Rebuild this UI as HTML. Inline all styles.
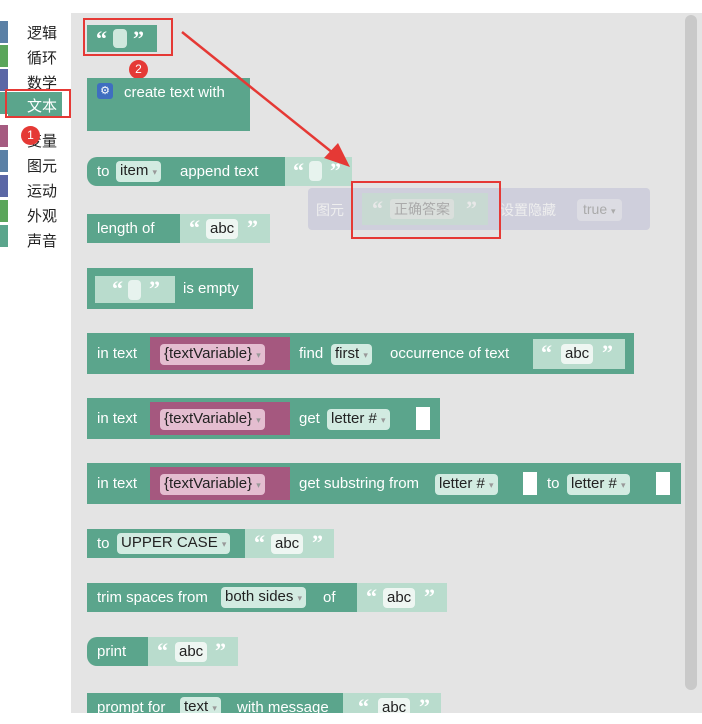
<!DOCTYPE html><html><head><meta charset="utf-8"><style>
body{margin:0;width:702px;height:724px;background:#fff;position:relative;overflow:hidden;font-family:"Liberation Sans","Noto Sans CJK SC",sans-serif}
div{position:absolute;box-sizing:border-box}
.fly{left:71px;top:13px;width:631px;height:700px;background:#e4e4e4}
.g{background:#5ba58c;color:#fff;font-size:15px;line-height:29px;white-space:nowrap}
.l{background:#b9dccd}
.f{background:#d2ebe1;color:#222;border-radius:4px;font-size:15px;line-height:20px;padding:0 4px}
.w{background:#eef6f2;color:#222;border-radius:4px;font-size:15px;line-height:20px;padding:0 4px}
.p{background:#a5587f;}
.pf{background:#e4bdd0;color:#222;border-radius:4px;font-size:15px;line-height:20px;padding:0 4px}
.t{color:#fff;font-size:15px}
.q{color:#fff;font-size:22px;line-height:22px;font-weight:bold;font-family:"Liberation Serif",serif}
.tb{font-size:15px;color:#222;left:27px}
.s{left:0;width:8px;height:22px}
.r{border:2px solid #e53935}
</style></head><body>
<div class="fly"></div>
<!-- toolbox -->
<div class="s" style="top:21px;background:#5b80a5"></div><div class="tb" style="top:22px">逻辑</div>
<div class="s" style="top:45px;background:#5ba55b"></div><div class="tb" style="top:47px">循环</div>
<div class="s" style="top:69px;background:#5b67a5"></div><div class="tb" style="top:72px">数学</div>
<div style="left:8px;top:92px;width:54px;height:24px;background:#5ba58c"></div><div class="s" style="top:92px;background:#5ba58c"></div><div class="tb" style="top:95px;color:#fff">文本</div>
<div class="s" style="top:125px;background:#a55b80"></div><div class="tb" style="top:130px">变量</div>
<div class="s" style="top:150px;background:#5b80a5"></div><div class="tb" style="top:155px">图元</div>
<div class="s" style="top:175px;background:#5b67a5"></div><div class="tb" style="top:180px">运动</div>
<div class="s" style="top:200px;background:#5ba55b"></div><div class="tb" style="top:205px">外观</div>
<div class="s" style="top:225px;background:#5ba58c"></div><div class="tb" style="top:230px">声音</div>
<div class="r" style="left:5px;top:89px;width:66px;height:29px"></div>
<div style="left:21px;top:126px;width:19px;height:19px;border-radius:50%;background:#e53935;color:#fff;font-size:12px;text-align:center;line-height:19px">1</div>
<!-- scrollbar -->
<div style="left:685px;top:15px;width:12px;height:675px;background:#c9c9c9;border-radius:6px"></div>
<!-- 1 quote -->
<div class="g" style="left:87px;top:25px;width:70px;height:27px"></div>
<div class="q" style="left:96px;top:28px">“</div><div style="left:113px;top:29px;width:14px;height:19px;background:#cfe8dd;border-radius:4px"></div><div class="q" style="left:133px;top:28px">”</div>
<div class="r" style="left:83px;top:18px;width:90px;height:38px"></div>
<div style="left:129px;top:60px;width:19px;height:19px;border-radius:50%;background:#e53935;color:#fff;font-size:12px;text-align:center;line-height:19px">2</div>
<!-- create text with -->
<div class="g" style="left:87px;top:78px;width:163px;height:53px"></div>
<div style="left:97px;top:83px;width:16px;height:16px;background:#3f6ec0;border-radius:3px;color:#fff;font-size:11px;text-align:center;line-height:16px">⚙</div>
<div class="t" style="left:124px;top:84px">create text with</div>
<!-- append -->
<div class="g" style="left:87px;top:157px;width:200px;height:29px;border-radius:10px 0 0 10px"><span style="margin-left:10px">to</span></div>
<div class="f" style="left:116px;top:161px">item <span style="color:#999;font-size:9px">▾</span></div>
<div class="t" style="left:180px;top:163px">append text</div>
<div class="l" style="left:285px;top:157px;width:67px;height:29px"></div>
<div class="q" style="left:293px;top:160px">“</div><div style="left:309px;top:161px;width:13px;height:20px;background:#e7f3ee;border-radius:4px"></div><div class="q" style="left:330px;top:160px">”</div>
<!-- length -->
<div class="g" style="left:87px;top:214px;width:94px;height:29px"><span style="margin-left:10px">length of</span></div>
<div class="l" style="left:180px;top:214px;width:90px;height:29px"></div>
<div class="q" style="left:189px;top:217px">“</div><div class="w" style="left:206px;top:219px">abc</div><div class="q" style="left:247px;top:217px">”</div>
<!-- is empty -->
<div class="g" style="left:87px;top:268px;width:166px;height:41px"><span style="position:absolute;left:96px;top:6px">is empty</span></div>
<div class="l" style="left:95px;top:276px;width:80px;height:27px"></div>
<div class="q" style="left:112px;top:278px">“</div><div style="left:128px;top:280px;width:13px;height:20px;background:#e7f3ee;border-radius:4px"></div><div class="q" style="left:149px;top:278px">”</div>
<!-- find -->
<div class="g" style="left:87px;top:333px;width:547px;height:41px;line-height:41px"><span style="margin-left:10px">in text</span><span style="position:absolute;left:212px">find</span><span style="position:absolute;left:303px">occurrence of text</span></div>
<div class="p" style="left:150px;top:337px;width:140px;height:33px"></div><div class="pf" style="left:160px;top:344px">{textVariable} <span style="color:#999;font-size:9px">▾</span></div>
<div class="f" style="left:331px;top:344px">first <span style="color:#999;font-size:9px">▾</span></div>
<div class="l" style="left:533px;top:339px;width:92px;height:30px"></div>
<div class="q" style="left:541px;top:342px">“</div><div class="w" style="left:561px;top:344px">abc</div><div class="q" style="left:602px;top:342px">”</div>
<!-- get -->
<div class="g" style="left:87px;top:398px;width:353px;height:41px;line-height:41px"><span style="margin-left:10px">in text</span><span style="position:absolute;left:212px">get</span></div>
<div class="p" style="left:150px;top:402px;width:140px;height:33px"></div><div class="pf" style="left:160px;top:409px">{textVariable} <span style="color:#999;font-size:9px">▾</span></div>
<div class="f" style="left:327px;top:409px">letter # <span style="color:#999;font-size:9px">▾</span></div>
<div style="left:416px;top:407px;width:14px;height:23px;background:#fff"></div>
<!-- substring -->
<div class="g" style="left:87px;top:463px;width:594px;height:41px;line-height:41px"><span style="margin-left:10px">in text</span><span style="position:absolute;left:212px">get substring from</span><span style="position:absolute;left:460px">to</span></div>
<div class="p" style="left:150px;top:467px;width:140px;height:33px"></div><div class="pf" style="left:160px;top:474px">{textVariable} <span style="color:#999;font-size:9px">▾</span></div>
<div class="f" style="left:435px;top:474px">letter # <span style="color:#999;font-size:9px">▾</span></div>
<div style="left:523px;top:472px;width:14px;height:23px;background:#fff"></div>
<div class="f" style="left:567px;top:474px">letter # <span style="color:#999;font-size:9px">▾</span></div>
<div style="left:656px;top:472px;width:14px;height:23px;background:#fff"></div>
<!-- upper -->
<div class="g" style="left:87px;top:529px;width:158px;height:29px"><span style="margin-left:10px">to</span></div>
<div class="f" style="left:117px;top:533px">UPPER CASE <span style="color:#999;font-size:9px">▾</span></div>
<div class="l" style="left:245px;top:529px;width:89px;height:29px"></div>
<div class="q" style="left:254px;top:532px">“</div><div class="w" style="left:271px;top:534px">abc</div><div class="q" style="left:312px;top:532px">”</div>
<!-- trim -->
<div class="g" style="left:87px;top:583px;width:270px;height:29px"><span style="margin-left:10px">trim spaces from</span><span style="position:absolute;left:236px">of</span></div>
<div class="f" style="left:221px;top:587px">both sides <span style="color:#999;font-size:9px">▾</span></div>
<div class="l" style="left:357px;top:583px;width:90px;height:29px"></div>
<div class="q" style="left:366px;top:586px">“</div><div class="w" style="left:383px;top:588px">abc</div><div class="q" style="left:424px;top:586px">”</div>
<!-- print -->
<div class="g" style="left:87px;top:637px;width:62px;height:29px;border-radius:10px 0 0 10px"><span style="margin-left:10px">print</span></div>
<div class="l" style="left:148px;top:637px;width:90px;height:29px"></div>
<div class="q" style="left:157px;top:640px">“</div><div class="w" style="left:175px;top:642px">abc</div><div class="q" style="left:215px;top:640px">”</div>
<!-- prompt -->
<div class="g" style="left:87px;top:693px;width:256px;height:29px"><span style="margin-left:10px">prompt for</span><span style="position:absolute;left:150px">with message</span></div>
<div class="f" style="left:180px;top:697px">text <span style="color:#999;font-size:9px">▾</span></div>
<div class="l" style="left:343px;top:693px;width:98px;height:29px"></div>
<div class="q" style="left:358px;top:696px">“</div><div class="w" style="left:378px;top:698px">abc</div><div class="q" style="left:419px;top:696px">”</div>
<div style="left:0;top:713px;width:702px;height:11px;background:#fff"></div>
<!-- ghost -->
<div style="left:308px;top:188px;width:342px;height:42px;background:#cfcfdc;border-radius:4px"></div>
<div style="left:316px;top:200px;color:#eee;font-size:14px">图元</div>
<div style="left:362px;top:193px;width:126px;height:32px;background:#c8d9d2"></div>
<div class="q" style="left:372px;top:198px;color:#e8e8e8">“</div>
<div style="left:390px;top:199px;background:#dadfdc;color:#aaa;font-size:14px;line-height:20px;padding:0 4px;border-radius:3px">正确答案</div>
<div class="q" style="left:466px;top:198px;color:#e8e8e8">”</div>
<div style="left:500px;top:200px;color:#eee;font-size:14px">设置隐藏</div>
<div style="left:577px;top:199px;background:#dcdce3;color:#aaa;font-size:14px;line-height:20px;padding:0 6px;border-radius:4px">true <span style="font-size:9px">▾</span></div>
<div class="r" style="left:351px;top:181px;width:150px;height:58px"></div>
<!-- arrow -->
<svg style="position:absolute;left:0;top:0" width="702" height="724"><line x1="182" y1="32" x2="338" y2="157" stroke="#e53935" stroke-width="2.5"/><polygon points="350,167 324,158 338,143" fill="#e53935"/></svg>
</body></html>
